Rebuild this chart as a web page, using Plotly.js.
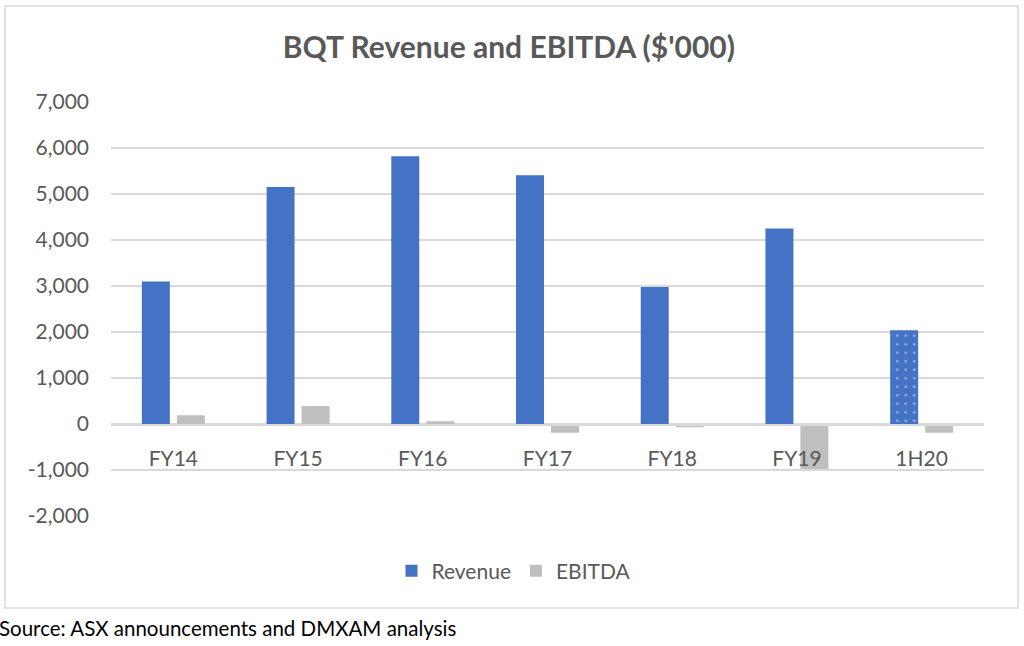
<!DOCTYPE html>
<html>
<head>
<meta charset="utf-8">
<script src="https://cdn.plot.ly/plotly-3.0.1.min.js"></script>
<style>
  html, body { margin: 0; padding: 0; background: #ffffff; }
  #chart { width: 1024px; height: 646px; }
</style>
</head>
<body>
<div id="chart"></div>
<script>
const categories = ['FY14', 'FY15', 'FY16', 'FY17', 'FY18', 'FY19', '1H20'];
const revenue = [3100, 5150, 5820, 5410, 2980, 4250, 2040];
const ebitda = [190, 390, 60, -190, -70, -980, -190];
const revenuePattern = ['', '', '', '', '', '', '.'];
const yTickVals = [-2000, -1000, 0, 1000, 2000, 3000, 4000, 5000, 6000, 7000];
const yTickText = ['-2,000', '-1,000', '0', '1,000', '2,000', '3,000', '4,000', '5,000', '6,000', '7,000'];

const FONT = 'Lato, "Open Sans", sans-serif';
const GREY_TEXT = '#595959';

const traces = [
  {
    type: 'bar', name: 'Revenue', x: categories, y: revenue,
    marker: {
      color: '#4472C4',
      line: { width: 0 },
      pattern: { shape: revenuePattern, fgcolor: '#ffffff', size: 8.5, solidity: 0.07, fillmode: 'overlay' }
    },
    hoverinfo: 'skip'
  },
  {
    type: 'bar', name: 'EBITDA', x: categories, y: ebitda,
    marker: { color: '#BFBFBF', line: { width: 0 } },
    hoverinfo: 'skip'
  }
];

// plot area in pixels: x 111..984, y 102..516
const L = 111, R = 984, T = 102, B = 516;
const W = 1024, H = 646;
const px = v => (v - L) / (R - L);
const py = v => (B - v) / (B - T);

const layout = {
  width: W, height: H,
  margin: { l: L, r: W - R, t: T, b: H - B, pad: 0 },
  paper_bgcolor: '#ffffff',
  plot_bgcolor: '#ffffff',
  font: { family: FONT, color: GREY_TEXT },
  barmode: 'group',
  bargap: 0.439,
  bargroupgap: 0.2,
  showlegend: true,
  title: {
    text: "<b>BQT Revenue and EBITDA ($'000)</b>",
    font: { family: FONT, size: 30, color: GREY_TEXT },
    x: 0.497, xref: 'container', xanchor: 'center',
    y: 1 - 47 / H, yref: 'container', yanchor: 'middle'
  },
  xaxis: {
    type: 'category',
    anchor: 'free',
    position: 2 / 9,
    showline: true, linecolor: '#D9D9D9', linewidth: 1.5,
    showgrid: false, zeroline: false,
    ticks: '',
    ticklabelstandoff: 15,
    tickfont: { family: FONT, size: 21, color: GREY_TEXT },
    fixedrange: true
  },
  yaxis: {
    range: [-2000, 7000],
    tickmode: 'array', tickvals: yTickVals, ticktext: yTickText,
    showgrid: true, gridcolor: '#D9D9D9', gridwidth: 1.5,
    zeroline: false, showline: false,
    ticks: '',
    ticklabelstandoff: 21,
    tickfont: { family: FONT, size: 21, color: GREY_TEXT },
    fixedrange: true
  },
  legend: {
    orientation: 'h',
    x: px(514), xanchor: 'center',
    y: py(571), yanchor: 'middle',
    font: { family: FONT, size: 21, color: GREY_TEXT },
    itemwidth: 30,
    bgcolor: 'rgba(0,0,0,0)'
  },
  shapes: [
    {
      type: 'rect', xref: 'paper', yref: 'paper', layer: 'below',
      x0: px(5), x1: px(1018), y0: py(608), y1: py(6),
      line: { color: '#D9D9D9', width: 1.5 }, fillcolor: 'rgba(0,0,0,0)'
    }
  ],
  annotations: [
    {
      text: 'Source: ASX announcements and DMXAM analysis',
      xref: 'paper', yref: 'paper', x: px(-3), y: py(628),
      xanchor: 'left', yanchor: 'middle', showarrow: false,
      font: { family: FONT, size: 20.5, color: '#000000' }
    }
  ]
};

Plotly.newPlot('chart', traces, layout, { displayModeBar: false, staticPlot: true });
</script>
</body>
</html>
